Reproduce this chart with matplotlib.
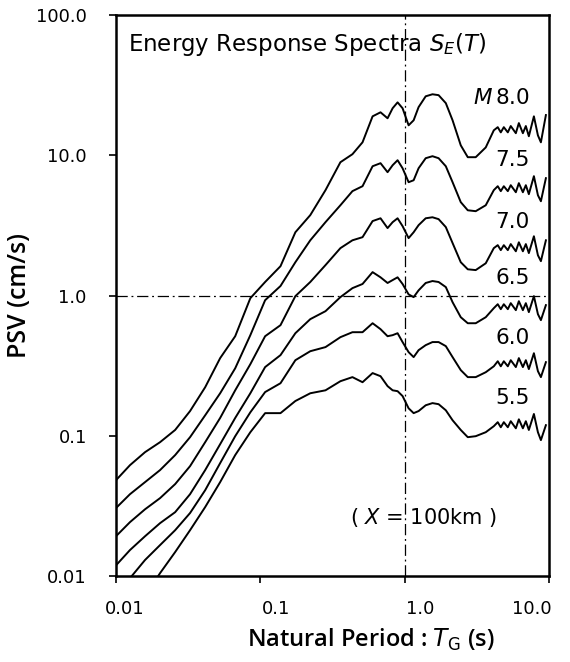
import numpy as np
import matplotlib
matplotlib.use("Agg")
import matplotlib.pyplot as plt
from matplotlib.transforms import ScaledTranslation

plt.rcParams['font.family'] = ['DejaVu Sans']
plt.rcParams['mathtext.fontset'] = 'custom'
plt.rcParams['mathtext.rm'] = 'DejaVu Sans'
plt.rcParams['mathtext.it'] = 'DejaVu Sans:italic'
plt.rcParams['mathtext.bf'] = 'DejaVu Sans:bold'

# natural period T (s), shared by every curve
period = [0.0100, 0.0125, 0.0159, 0.0202, 0.0257, 0.0326, 0.0415, 0.0527, 0.0670,
          0.0853, 0.108, 0.138, 0.175, 0.222, 0.283, 0.359, 0.435, 0.511, 0.600,
          0.681, 0.762, 0.826, 0.894, 0.968, 1.066, 1.155, 1.25, 1.40, 1.56, 1.72,
          1.93, 2.15, 2.45, 2.74, 3.11, 3.65, 4.15, 4.42, 4.64, 4.87, 5.19, 5.44,
          5.90, 6.19, 6.60, 6.92, 7.26, 7.87, 8.39, 8.80, 9.53]

# PSV (cm/s) for each magnitude, X = 100 km
psv_80 = [0.0482, 0.0617, 0.0764, 0.0900, 0.110, 0.150, 0.222, 0.358, 0.513,
          0.958, 1.25, 1.62, 2.83, 3.75, 5.65, 8.94, 10.2, 12.4, 19.0,
          20.3, 18.4, 21.7, 23.9, 21.7, 16.4, 17.8, 22.1, 26.4, 27.3, 26.9,
          23.6, 17.8, 11.8, 9.71, 9.71, 11.4, 15.1, 15.9, 14.6, 15.9, 14.6, 16.2,
          14.4, 17.0, 14.4, 16.2, 13.7, 19.0, 13.9, 12.4, 19.4]
psv_75 = [0.0305, 0.0383, 0.0467, 0.0569, 0.0728, 0.0977, 0.140, 0.201, 0.303,
          0.522, 0.927, 1.17, 1.73, 2.48, 3.34, 4.41, 5.56, 6.03, 8.37,
          8.80, 7.59, 8.51, 9.24, 8.10, 6.44, 6.65, 8.10, 9.55, 9.87, 9.55,
          8.37, 6.44, 4.64, 4.06, 4.00, 4.41, 5.65, 6.03, 5.56, 6.03, 5.56, 6.13,
          5.46, 6.34, 5.46, 6.13, 5.29, 7.11, 5.20, 4.71, 6.88]
psv_70 = [0.0192, 0.0242, 0.0299, 0.0359, 0.0452, 0.0607, 0.0900, 0.134, 0.211,
          0.324, 0.513, 0.615, 0.991, 1.25, 1.65, 2.18, 2.48, 2.61, 3.40,
          3.56, 3.03, 3.34, 3.56, 3.13, 2.57, 2.83, 3.18, 3.56, 3.62, 3.51,
          3.08, 2.37, 1.73, 1.54, 1.52, 1.70, 2.18, 2.29, 2.11, 2.29, 2.11, 2.33,
          2.07, 2.40, 2.07, 2.33, 2.01, 2.65, 1.94, 1.76, 2.48]
psv_65 = [0.0119, 0.0153, 0.0192, 0.0238, 0.0285, 0.0383, 0.0569, 0.0871, 0.134,
          0.201, 0.309, 0.376, 0.539, 0.679, 0.774, 0.975, 1.13, 1.21, 1.47,
          1.35, 1.23, 1.29, 1.35, 1.21, 1.02, 0.975, 1.09, 1.23, 1.27, 1.25,
          1.15, 0.897, 0.701, 0.635, 0.635, 0.701, 0.813, 0.868, 0.800, 0.868, 0.800, 0.883,
          0.787, 0.912, 0.787, 0.883, 0.762, 0.991, 0.737, 0.668, 0.855]
psv_60 = [0.0073, 0.00964, 0.0130, 0.0166, 0.0212, 0.0281, 0.0409, 0.0638, 0.0993,
          0.147, 0.205, 0.237, 0.346, 0.401, 0.429, 0.505, 0.548, 0.548, 0.635,
          0.576, 0.513, 0.522, 0.539, 0.466, 0.395, 0.364, 0.408, 0.443, 0.466, 0.466,
          0.436, 0.364, 0.294, 0.262, 0.262, 0.284, 0.313, 0.340, 0.313, 0.340, 0.313, 0.346,
          0.309, 0.358, 0.309, 0.346, 0.299, 0.388, 0.289, 0.262, 0.335]
psv_55 = [0.00348, 0.0050, 0.00718, 0.01047, 0.0148, 0.0212, 0.0310, 0.0467, 0.0728,
          0.106, 0.145, 0.145, 0.177, 0.201, 0.211, 0.245, 0.262, 0.241, 0.280,
          0.266, 0.226, 0.211, 0.208, 0.192, 0.157, 0.145, 0.150, 0.165, 0.171, 0.168,
          0.152, 0.129, 0.110, 0.0977, 0.0993, 0.106, 0.117, 0.125, 0.115, 0.125, 0.115, 0.127,
          0.113, 0.131, 0.113, 0.127, 0.110, 0.143, 0.106, 0.0931, 0.119]

curves = [psv_80, psv_75, psv_70, psv_65, psv_60, psv_55]
curve_labels = ['$M\\,$8.0', '7.5', '7.0', '6.5', '6.0', '5.5']
label_y = [0.852, 0.742, 0.631, 0.531, 0.424, 0.317]  # axes fraction

xticks = [0.01, 0.1, 1.0, 10.0]
xticklabels = ['0.01', '0.1', '1.0', '10.0']
yticks = [0.01, 0.1, 1.0, 10.0, 100.0]
yticklabels = ['0.01', '0.1', '1.0', '10.0', '100.0']

fig = plt.figure(figsize=(5.70, 6.62), dpi=100)
ax = fig.add_axes([0.2035, 0.130, 0.7595, 0.847])

for s in curves:
    ax.plot(period, s, color='black', lw=1.4, solid_joinstyle='round')

# reference lines at T = 1 s and PSV = 1 cm/s
ax.axvline(1.0, color='black', lw=0.9, linestyle=(0, (9, 3, 1.5, 3)))
ax.axhline(1.0, color='black', lw=0.9, linestyle=(0, (9, 3, 1.5, 3)))

ax.set_xscale('log')
ax.set_yscale('log')
ax.set_xlim(0.01, 10.0)
ax.set_ylim(0.01, 100.0)
ax.set_xticks(xticks)
ax.set_xticklabels(xticklabels)
ax.set_yticks(yticks)
ax.set_yticklabels(yticklabels)
ax.minorticks_off()
ax.tick_params(direction='out', length=5, width=1.2, labelsize=13)
ax.tick_params(axis='y', pad=16)
ax.tick_params(axis='x', pad=12)
for sp in ax.spines.values():
    sp.set_linewidth(1.8)

# nudge x tick labels like the printed figure
for lab, dx in zip(ax.get_xticklabels(), [6, 11, 11, -12]):
    lab.set_transform(lab.get_transform() + ScaledTranslation(dx / 72, 0, fig.dpi_scale_trans))

for lab, y in zip(curve_labels, label_y):
    ax.text(0.956, y, lab, transform=ax.transAxes, ha='right', va='center', fontsize=15.5)

ax.text(0.028, 0.948, 'Energy Response Spectra $S_E(T)$', transform=ax.transAxes,
        ha='left', va='center', fontsize=16.5)
ax.text(0.711, 0.105, '( $X$ = 100km )', transform=ax.transAxes,
        ha='center', va='center', fontsize=15)

ax.set_xlabel('Natural Period : $T_{\\mathrm{G}}$ (s)', fontsize=17,
              fontweight='semibold', family=['Open Sans', 'DejaVu Sans'])
ax.set_ylabel('PSV (cm/s)', fontsize=18, fontweight='semibold',
              family=['Open Sans', 'DejaVu Sans'])
ax.xaxis.set_label_coords(0.589, -0.114)
ax.xaxis.label.set_va('center')
ax.yaxis.set_label_coords(-0.222, 0.5)
ax.yaxis.label.set_va('center')

fig.savefig('out.png', dpi=100)
